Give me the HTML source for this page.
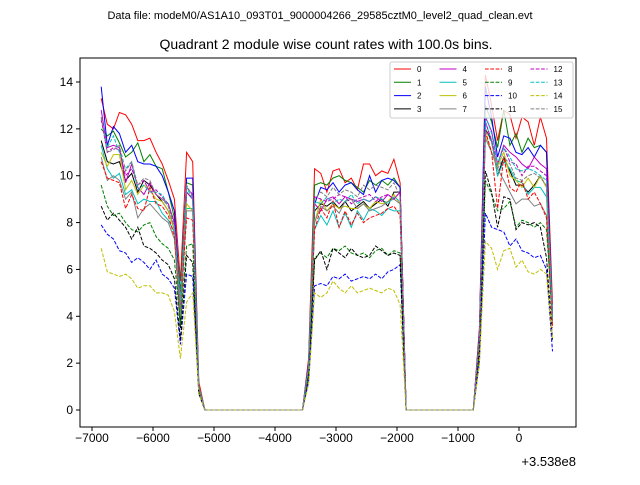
<!DOCTYPE html>
<html><head><meta charset="utf-8"><style>
body{margin:0;background:#fff;}
svg text{font-family:"Liberation Sans","DejaVu Sans",sans-serif;}
</style></head><body>
<svg id="chart" width="640" height="480" xmlns="http://www.w3.org/2000/svg">
<rect width="640" height="480" fill="#fff"/>
<text x="320" y="19" font-size="11" text-anchor="middle">Data file: modeM0/AS1A10_093T01_9000004266_29585cztM0_level2_quad_clean.evt</text>
<text x="326" y="49" font-size="14" text-anchor="middle">Quadrant 2 module wise count rates with 100.0s bins.</text>
<g id="plot"></g>
<rect x="80" y="58" width="496" height="369" fill="none" stroke="#000" stroke-width="1"/>
<g id="axes"></g>
<text x="576" y="466" font-size="13" text-anchor="end">+3.538e8</text>
<g id="legend"></g>
</svg>
<script>
const colors=["#ff0000","#008000","#0000ff","#000000","#bf00bf","#00bfbf","#bfbf00","#808080"];
const xTicks=[-7000,-6000,-5000,-4000,-3000,-2000,-1000,0];
const yTicks=[0,2,4,6,8,10,12,14];
const segAStart=-6850, segBStart=-3450, segCStart=-650, binSize=100;
const gap1Count=17, gap2Count=12;
const segA=[
[13.3,12.2,12.0,12.7,12.6,12.2,11.5,11.5,11.6,11.0,10.5,9.8,9.0,5.5,11.0,10.6,1.2],
[12.0,11.7,11.9,11.4,10.8,11.0,11.4,10.6,10.9,10.4,10.3,9.3,8.2,5.0,9.7,9.6,1.0],
[13.8,11.3,12.1,11.8,11.0,11.3,10.6,10.5,10.5,10.4,10.0,9.3,8.5,4.5,9.9,9.9,1.0],
[11.5,10.6,10.5,10.6,9.8,10.1,9.3,9.8,9.6,9.2,8.9,8.5,7.7,3.5,9.3,9.0,0.9],
[12.8,11.2,11.3,11.2,9.7,10.5,9.5,9.2,9.7,9.2,9.0,8.8,8.0,4.2,9.3,9.0,1.0],
[11.3,10.3,9.9,10.1,9.2,9.4,8.8,9.0,8.9,8.9,8.4,8.1,7.6,4.6,8.6,8.6,0.9],
[11.0,10.4,10.9,10.9,9.4,9.8,9.2,9.6,9.4,9.0,8.9,8.5,7.7,4.0,8.8,8.5,0.9],
[10.8,9.8,10.0,9.8,9.0,9.3,8.2,8.6,8.8,8.5,8.2,8.0,7.3,4.0,8.5,8.5,0.9],
[10.6,9.9,9.8,9.7,8.6,9.2,8.6,8.5,9.5,8.8,8.7,8.3,7.4,4.3,8.2,8.1,0.9],
[9.6,8.7,8.3,8.4,8.0,7.7,7.6,7.9,8.0,7.4,7.1,6.9,6.4,3.6,7.0,7.1,0.8],
[7.9,7.5,7.3,6.8,6.7,6.3,6.5,6.3,6.0,6.4,5.8,5.6,5.2,2.8,5.8,5.7,0.7],
[8.7,8.1,8.4,8.1,7.8,7.3,7.8,7.0,6.9,6.7,6.4,6.2,5.6,3.0,6.6,6.3,0.7],
[12.4,11.0,11.2,11.1,10.0,10.3,9.6,9.8,9.3,9.4,9.1,8.8,7.8,4.4,9.5,9.2,1.0],
[12.5,11.2,11.7,11.0,10.3,10.6,9.4,9.6,9.3,9.3,9.2,8.7,7.8,4.7,9.5,9.0,1.0],
[6.9,5.9,5.8,5.7,5.8,5.6,5.2,5.3,5.3,5.0,5.0,4.9,4.2,2.2,4.6,5.0,0.7],
[12.5,11.0,11.1,11.3,10.2,10.6,9.6,9.9,9.8,9.2,9.0,8.7,7.8,4.3,9.6,9.1,1.0]];
const segB=[
[2.2,10.3,10.1,9.3,10.2,10.3,9.7,9.9,9.4,10.5,10.5,10.0,10.2,10.1,10.7,9.7],
[2.0,9.6,9.7,9.6,9.9,10.0,9.8,9.7,9.5,9.3,9.8,9.6,9.8,9.6,9.9,9.5],
[2.0,8.8,9.5,9.4,9.7,9.3,9.6,9.7,9.4,9.2,10.0,9.3,9.8,9.9,9.8,9.5],
[1.8,8.5,8.8,8.7,8.9,8.6,8.9,8.5,8.7,8.9,8.6,8.8,9.0,8.7,9.3,9.3],
[1.9,8.8,8.5,9.0,9.1,8.8,9.1,9.0,8.9,9.0,8.9,9.1,8.9,9.2,9.0,9.3],
[1.7,7.7,8.3,7.9,8.5,7.8,8.4,7.8,8.5,8.1,8.6,8.5,8.3,8.6,8.5,8.5],
[1.8,8.0,9.0,8.5,8.8,8.6,8.7,8.6,8.6,8.8,8.6,8.9,8.8,8.9,9.2,8.8],
[1.8,8.0,8.7,8.5,8.7,8.4,8.9,9.0,8.6,8.8,8.5,8.6,8.7,8.9,9.0,8.8],
[1.8,7.7,8.6,8.2,8.9,7.8,8.5,7.9,8.4,8.0,8.2,8.3,8.4,8.6,8.7,8.3],
[1.5,6.5,6.7,6.5,6.9,6.8,7.0,6.7,6.6,6.7,6.5,6.8,6.9,6.6,6.8,6.7],
[1.2,5.3,5.4,5.3,5.7,5.6,5.8,5.5,5.6,5.7,5.6,5.8,5.6,5.9,6.0,6.2],
[1.5,6.4,6.8,6.0,6.9,6.7,6.5,6.9,6.6,6.5,6.6,7.0,6.8,6.6,6.7,6.6],
[1.9,9.1,9.0,8.9,9.0,9.2,9.1,8.8,9.0,9.1,9.2,8.9,9.1,9.2,9.0,9.3],
[1.8,8.9,8.8,9.1,8.8,9.0,8.9,9.2,8.8,9.0,8.9,9.1,9.0,8.8,9.1,8.9],
[1.1,5.0,4.8,5.0,5.5,5.2,5.0,5.3,5.0,5.1,5.2,5.1,5.0,5.2,5.1,4.5],
[1.9,9.0,9.3,9.1,9.5,9.2,9.4,9.3,9.1,9.6,9.4,9.6,9.5,9.4,9.7,9.1]];
const segC=[
[3.5,14.3,13.0,11.5,12.8,12.6,11.6,12.5,12.3,11.3,12.5,11.6,4.5],
[3.3,13.0,12.3,11.2,12.8,11.3,11.8,11.0,11.6,11.2,11.3,11.0,4.0],
[3.3,13.8,12.5,10.8,11.7,11.6,11.0,10.9,11.2,10.8,11.3,11.0,4.0],
[3.0,12.0,11.5,10.0,10.8,10.2,9.6,9.6,9.3,9.6,10.0,9.5,3.8],
[3.1,12.5,11.9,10.5,11.3,11.0,10.8,10.5,10.3,10.8,10.5,10.3,4.0],
[3.0,12.3,11.5,10.0,10.6,10.3,9.8,9.7,9.2,9.5,9.5,9.1,3.7],
[3.0,11.8,11.0,10.4,11.0,10.0,9.8,9.5,9.9,9.5,10.0,9.5,3.7],
[2.9,11.6,11.0,10.3,9.8,9.3,8.8,9.0,9.0,8.7,8.8,8.3,3.6],
[3.0,11.9,11.0,8.6,10.8,9.5,9.3,9.8,9.0,9.3,8.8,8.2,3.5],
[2.3,9.8,9.2,8.5,8.6,8.9,7.8,8.1,8.0,7.8,8.0,7.7,4.0],
[2.0,8.4,7.8,7.7,7.6,7.0,7.3,6.8,6.7,6.5,6.6,6.0,2.5],
[2.5,10.2,9.3,7.8,9.1,9.0,7.7,8.0,7.9,8.0,7.8,6.5,3.0],
[3.1,12.3,11.5,10.5,11.2,10.6,10.5,10.0,10.4,10.4,10.2,10.0,4.0],
[3.1,12.6,11.8,10.5,11.2,10.8,10.3,10.2,10.3,10.2,10.0,9.8,4.0],
[2.0,7.2,6.9,6.0,6.8,6.9,6.1,6.4,5.9,5.8,6.0,5.8,3.0],
[3.1,12.0,11.4,10.3,10.8,10.5,9.9,9.8,10.0,10.1,9.9,9.6,3.8]];

const NS="http://www.w3.org/2000/svg";
const X0=80,X1=576,Y0=58,Y1=427;
function xs(v){return 519+v*(427/7000);}
function ys(v){return 410-v*(328/14);}
function mk(tag,attrs,parent){const e=document.createElementNS(NS,tag);for(const k in attrs)e.setAttribute(k,attrs[k]);parent.appendChild(e);return e;}
const axes=document.getElementById('axes');
xTicks.forEach(t=>{const x=xs(t);
 const l=mk('line',{x1:x,x2:x,y1:Y1,y2:Y1+4,stroke:'#000'},axes);
 
 
 const tx=mk('text',{x:x,y:Y1+15,'font-size':12,'text-anchor':'middle'},axes);
 tx.textContent=t<0?'\u2212'+Math.abs(t):String(t);
 
 });
yTicks.forEach(t=>{const y=ys(t);
 const l=mk('line',{x1:X0-4,x2:X0,y1:y,y2:y,stroke:'#000'},axes);
 
 
 const tx=mk('text',{x:X0-7,y:y+4,'font-size':12,'text-anchor':'end'},axes);
 tx.textContent=String(t);
 
 });
const plot=document.getElementById('plot');
for(let s=0;s<16;s++){
 const pts=[];
 segA[s].forEach((v,i)=>pts.push([segAStart+i*binSize,v]));
 const g1=segAStart+segA[s].length*binSize;
 for(let i=0;i<gap1Count;i++)pts.push([g1+i*binSize,0]);
 segB[s].forEach((v,i)=>pts.push([segBStart+i*binSize,v]));
 const g2=segBStart+segB[s].length*binSize;
 for(let i=0;i<gap2Count;i++)pts.push([g2+i*binSize,0]);
 segC[s].forEach((v,i)=>pts.push([segCStart+i*binSize,v]));
 const d=pts.map((p,i)=>(i?'L':'M')+xs(p[0]).toFixed(1)+' '+ys(p[1]).toFixed(1)).join('');
 const a={d:d,fill:'none',stroke:colors[s%8],'stroke-width':1};
 if(s>=8)a['stroke-dasharray']='3.7,1.6';
 const p=mk('path',a,plot);
 
 
}
const lg=document.getElementById('legend');
const box=mk('rect',{x:390,y:62,width:183,height:56,rx:2,fill:'#fff','fill-opacity':0.8,stroke:'#ccc'},lg);


for(let s=0;s<16;s++){
 const c=Math.floor(s/4),r=s%4;
 const x=394+c*45.5,y=69+r*13.3;
 const a={x1:x,x2:x+17,y1:y,y2:y,stroke:colors[s%8],'stroke-width':1};
 if(s>=8)a['stroke-dasharray']='3.7,1.6';
 const l=mk('line',a,lg);
 
 
 const t=mk('text',{x:x+23,y:y+3,'font-size':8},lg);
 t.textContent=String(s);
 
 
}
</script>
</body></html>
